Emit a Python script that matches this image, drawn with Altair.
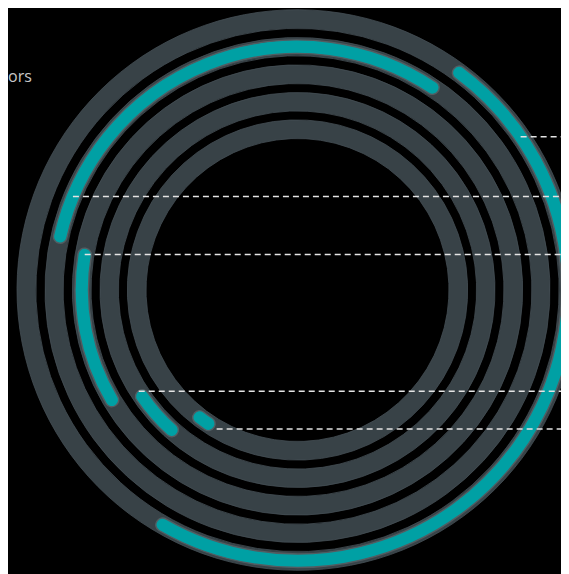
import math
import altair as alt
import pandas as pd

# ---- data (outer ring -> inner ring) ----
categories = ["Ring 1", "Ring 2", "Ring 3", "Ring 4", "Ring 5"]
shares = [48.9, 31.7, 12.1, 4.9, 2.4]          # percent of the full circle
anchor_deg = [55.5, 292.6, 279.5, 237.5, 210.2]  # where each leader line meets its ring
title_text = "ors"

# ---- styling / geometry (page margin is 8px) ----
W, H = 553, 566
CX, CY = 289.5, 282.0
START_DEG = 211.3
OUTER = 280.0
STEP = 27.5
TRACK_W = 18.5
INSET = 2.5
TRACK = "#384247"
TEAL = "#00a0a4"
BORDER = "#535c61"

# stack the shares from the innermost ring outward
bounds = {}
cum = 0.0
for i in reversed(range(len(categories))):
    bounds[i] = (cum, cum + shares[i])
    cum += shares[i]

rows = []
for i, c in enumerate(categories):
    r_out = OUTER - STEP * i
    r_in = r_out - TRACK_W
    rows.append(dict(cat=c, share=shares[i], t0=bounds[i][0], t1=bounds[i][1],
                     f0=0.0, f1=100.0, r_out=r_out, r_in=r_in,
                     tr_out=r_out - INSET, tr_in=r_in + INSET,
                     r_mid=(r_out + r_in) / 2, anchor=anchor_deg[i], cx=0.0, cy=0.0))
df = pd.DataFrame(rows)

xs = alt.Scale(domain=[-CX, W - CX], nice=False, zero=False)
ys = alt.Scale(domain=[-CY, H - CY], nice=False, zero=False, reverse=True)
a0 = math.radians(START_DEG)
ts = alt.Scale(domain=[0, 100], range=[a0, a0 + 2 * math.pi])

base = alt.Chart(df)
pos = dict(x=alt.X("cx:Q", scale=xs, axis=None), y=alt.Y("cy:Q", scale=ys, axis=None))

tracks = base.mark_arc(color=TRACK, stroke="#444e54", strokeWidth=0.8).encode(
    theta=alt.Theta("f0:Q", scale=ts, stack=None), theta2="f1:Q",
    radius=alt.Radius("r_out:Q", scale=None), radius2="r_in:Q", **pos)

arcs = base.mark_arc(color=TEAL, stroke=BORDER, strokeWidth=1.4, cornerRadius=6.5).encode(
    theta=alt.Theta("t0:Q", scale=ts, stack=None), theta2="t1:Q",
    radius=alt.Radius("tr_out:Q", scale=None), radius2="tr_in:Q", **pos)

leaders = base.transform_calculate(
    ax="datum.r_mid * sin(datum.anchor * PI / 180)",
    ay="-datum.r_mid * cos(datum.anchor * PI / 180)",
    xe="320",
).mark_rule(color="#e4e4e4", strokeWidth=1.5, strokeDash=[6, 4]).encode(
    x=alt.X("ax:Q", scale=xs, axis=None), x2="xe:Q",
    y=alt.Y("ay:Q", scale=ys, axis=None))

title = alt.Chart(pd.DataFrame({"t": [title_text]})).mark_text(
    align="left", baseline="alphabetic", fontSize=16, font="Open Sans",
    color="#c8c8c8").encode(x=alt.value(0), y=alt.value(74), text="t:N")

chart = alt.layer(tracks, arcs, leaders, title).properties(
    width=W, height=H,
    autosize=alt.AutoSizeParams(type="none"),
    padding=0,
    background="#000000",
).configure_view(strokeWidth=0)

chart.save("out.html", embed_options={"renderer": "svg", "actions": False})
